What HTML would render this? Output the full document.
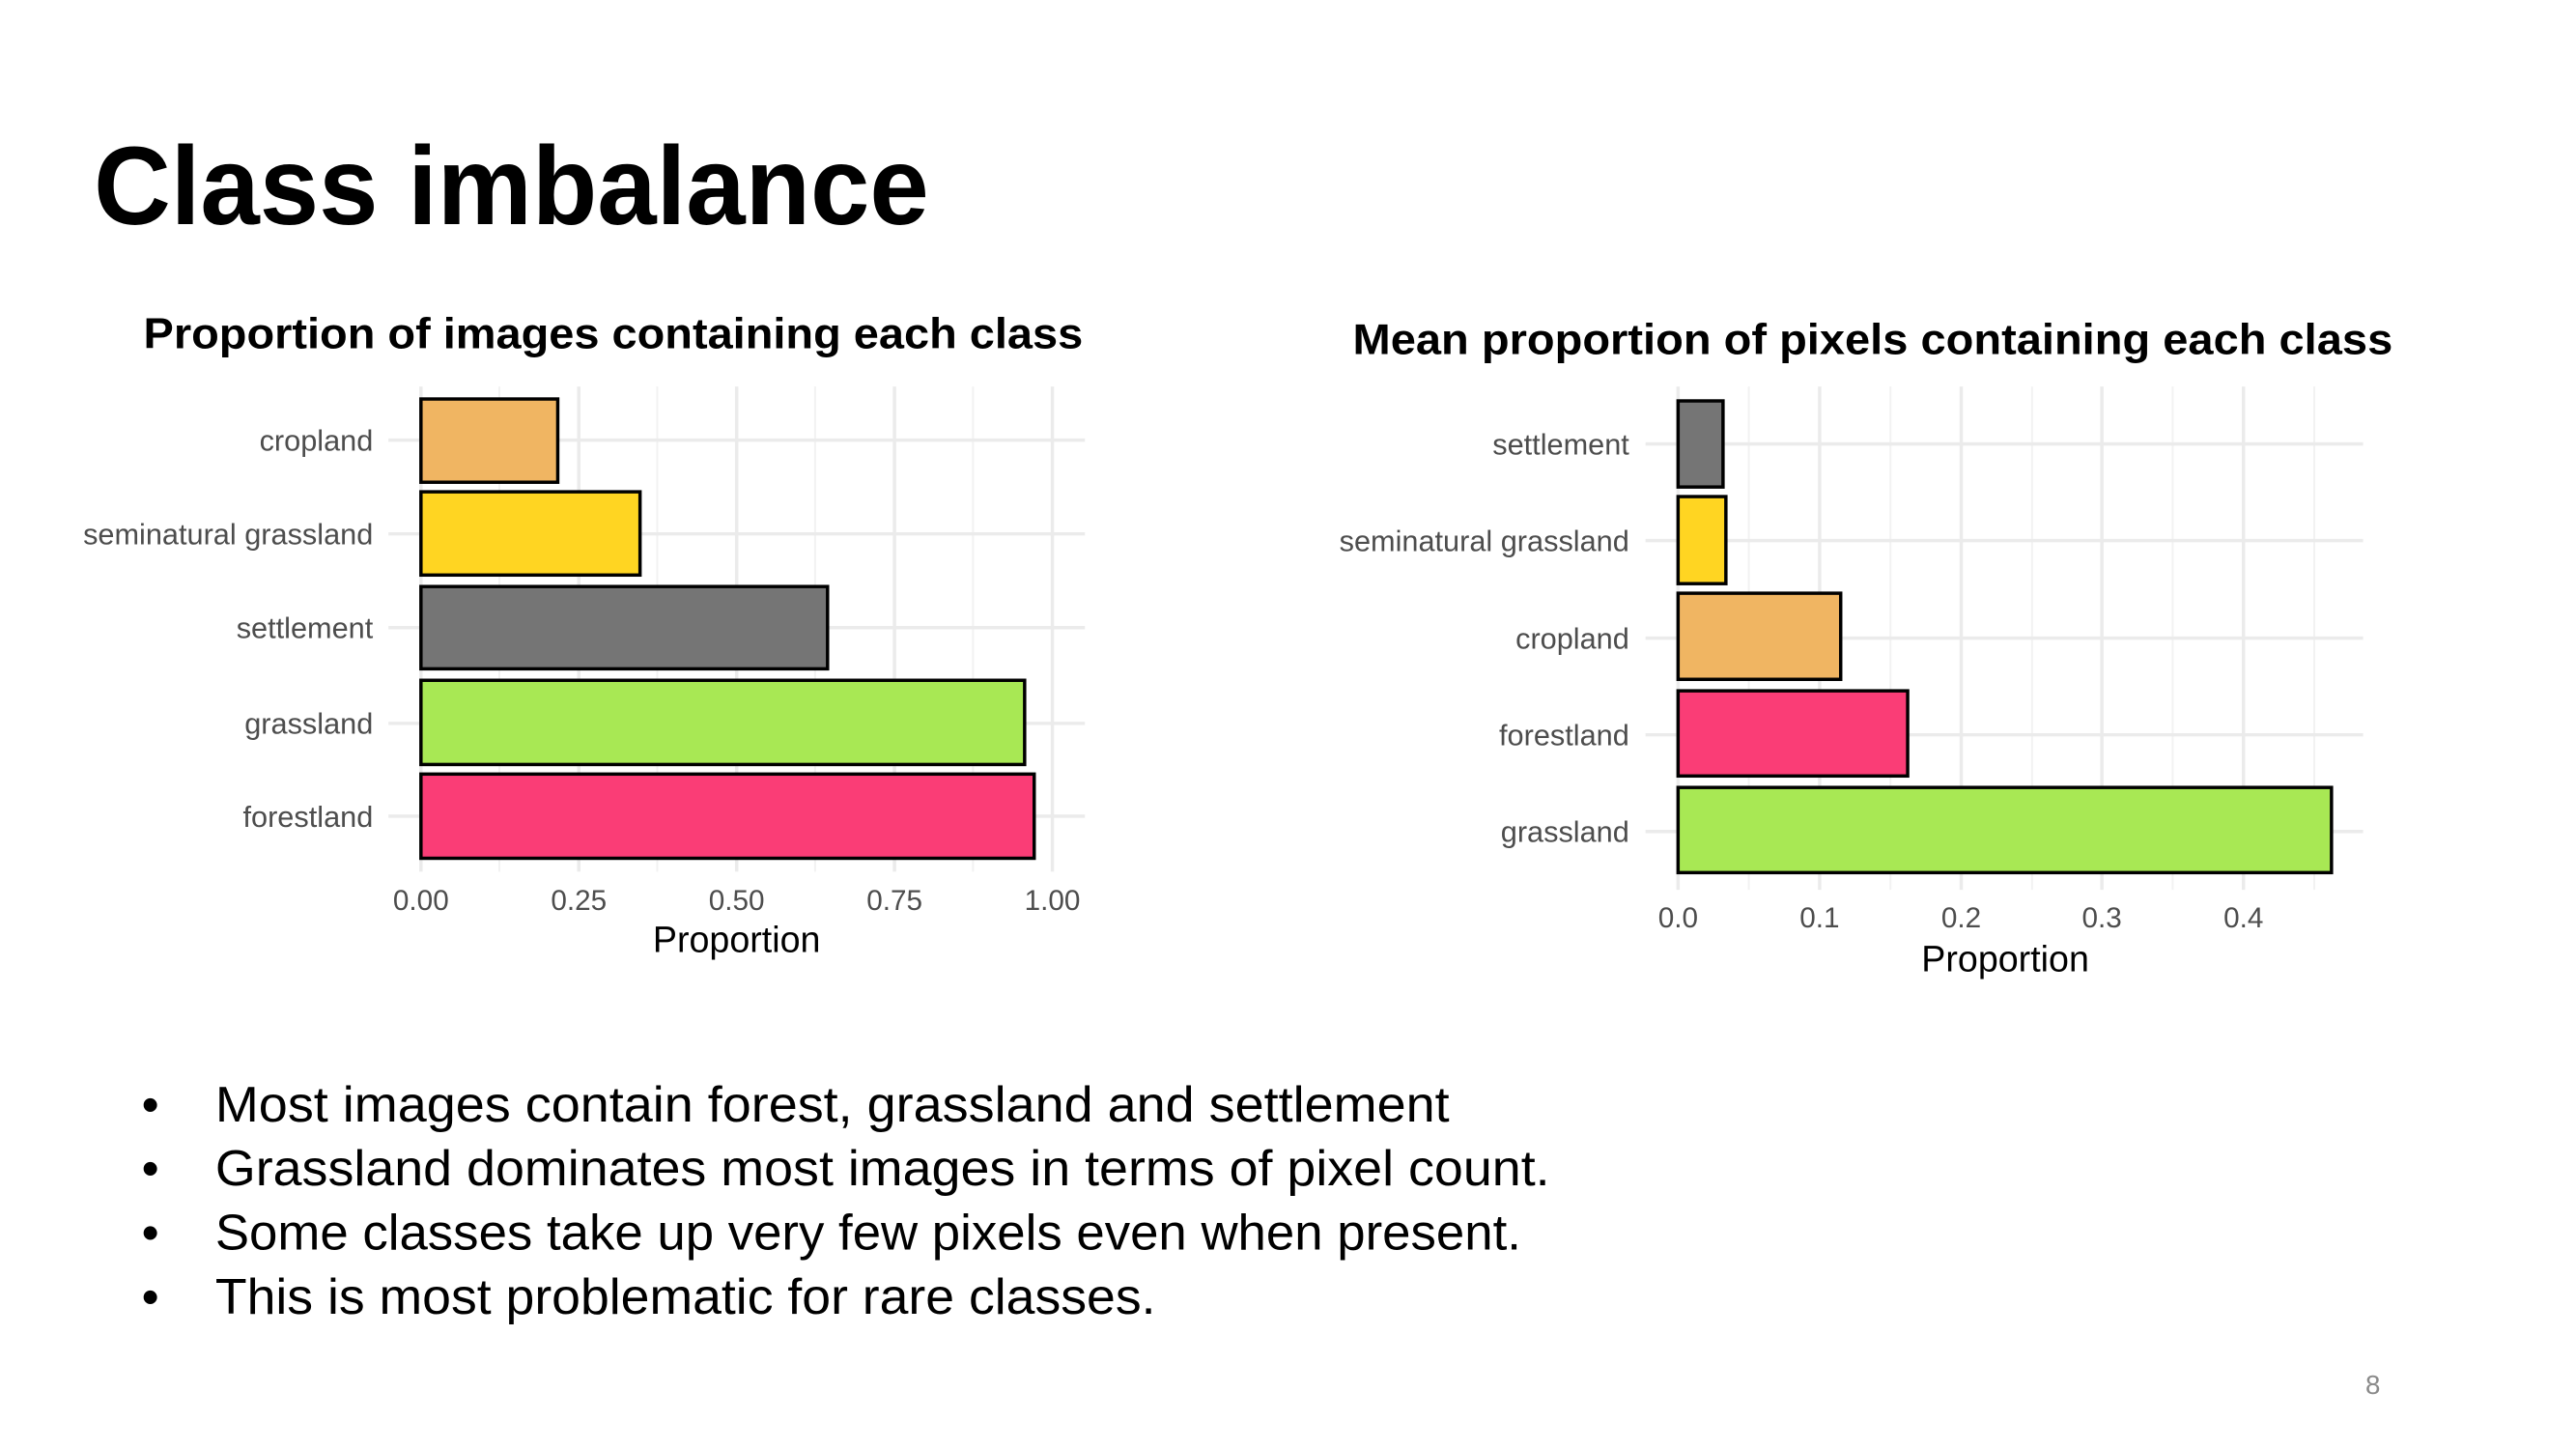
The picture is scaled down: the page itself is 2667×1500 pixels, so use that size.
<!DOCTYPE html>
<html><head><meta charset="utf-8"><style>html,body{margin:0;padding:0;background:#fff}svg{display:block}</style></head>
<body>
<svg width="2667" height="1500" viewBox="0 0 2667 1500" xmlns="http://www.w3.org/2000/svg" font-family="Liberation Sans, sans-serif">
<rect width="2667" height="1500" fill="#fff"/>
<g transform="scale(0.9905)">
<text x="98" y="234" font-size="116" font-weight="bold" textLength="873" lengthAdjust="spacingAndGlyphs">Class imbalance</text>

<!-- Left chart -->
<text x="150" y="364" font-size="45" font-weight="bold" textLength="982" lengthAdjust="spacingAndGlyphs">Proportion of images containing each class</text>
<g stroke="#f2f2f2" stroke-width="2">
<line x1="522" y1="404" x2="522" y2="911"/><line x1="687" y1="404" x2="687" y2="911"/><line x1="852" y1="404" x2="852" y2="911"/><line x1="1017" y1="404" x2="1017" y2="911"/>
</g>
<g stroke="#ebebeb" stroke-width="3.5">
<line x1="440" y1="404" x2="440" y2="911"/><line x1="605" y1="404" x2="605" y2="911"/><line x1="770" y1="404" x2="770" y2="911"/><line x1="935" y1="404" x2="935" y2="911"/><line x1="1100" y1="404" x2="1100" y2="911"/>
<line x1="406" y1="460" x2="1134" y2="460"/><line x1="406" y1="558" x2="1134" y2="558"/><line x1="406" y1="656" x2="1134" y2="656"/><line x1="406" y1="756" x2="1134" y2="756"/><line x1="406" y1="853" x2="1134" y2="853"/>
</g>
<g stroke="#000" stroke-width="3.5">
<rect x="440" y="417" width="143" height="87" fill="#f0b562"/>
<rect x="440" y="514" width="229" height="87" fill="#ffd522"/>
<rect x="440" y="613" width="425" height="86" fill="#757575"/>
<rect x="440" y="711" width="631" height="88" fill="#a8e854"/>
<rect x="440" y="809" width="641" height="88" fill="#fa3d76"/>
</g>
<g font-size="31" fill="#4d4d4d" text-anchor="end">
<text x="390" y="471">cropland</text><text x="390" y="569">seminatural grassland</text><text x="390" y="667">settlement</text><text x="390" y="767">grassland</text><text x="390" y="864">forestland</text>
</g>
<g font-size="30" fill="#4d4d4d" text-anchor="middle">
<text x="440" y="951">0.00</text><text x="605" y="951">0.25</text><text x="770" y="951">0.50</text><text x="935" y="951">0.75</text><text x="1100" y="951">1.00</text>
</g>
<text x="770" y="995" font-size="38" text-anchor="middle">Proportion</text>

<!-- Right chart -->
<text x="1414" y="370" font-size="45" font-weight="bold" textLength="1087" lengthAdjust="spacingAndGlyphs">Mean proportion of pixels containing each class</text>
<g stroke="#f2f2f2" stroke-width="2">
<line x1="1828" y1="404" x2="1828" y2="930"/><line x1="1976" y1="404" x2="1976" y2="930"/><line x1="2124" y1="404" x2="2124" y2="930"/><line x1="2271" y1="404" x2="2271" y2="930"/><line x1="2419" y1="404" x2="2419" y2="930"/>
</g>
<g stroke="#ebebeb" stroke-width="3.5">
<line x1="1754" y1="404" x2="1754" y2="930"/><line x1="1902" y1="404" x2="1902" y2="930"/><line x1="2050" y1="404" x2="2050" y2="930"/><line x1="2197" y1="404" x2="2197" y2="930"/><line x1="2345" y1="404" x2="2345" y2="930"/>
<line x1="1720" y1="464" x2="2470" y2="464"/><line x1="1720" y1="565" x2="2470" y2="565"/><line x1="1720" y1="667" x2="2470" y2="667"/><line x1="1720" y1="768" x2="2470" y2="768"/><line x1="1720" y1="869" x2="2470" y2="869"/>
</g>
<g stroke="#000" stroke-width="3.5">
<rect x="1754" y="419" width="47" height="90" fill="#757575"/>
<rect x="1754" y="519" width="50" height="91" fill="#ffd522"/>
<rect x="1754" y="620" width="170" height="90" fill="#f0b562"/>
<rect x="1754" y="722" width="240" height="89" fill="#fa3d76"/>
<rect x="1754" y="823" width="683" height="89" fill="#a8e854"/>
</g>
<g font-size="31" fill="#4d4d4d" text-anchor="end">
<text x="1703" y="475">settlement</text><text x="1703" y="576">seminatural grassland</text><text x="1703" y="678">cropland</text><text x="1703" y="779">forestland</text><text x="1703" y="880">grassland</text>
</g>
<g font-size="30" fill="#4d4d4d" text-anchor="middle">
<text x="1754" y="969">0.0</text><text x="1902" y="969">0.1</text><text x="2050" y="969">0.2</text><text x="2197" y="969">0.3</text><text x="2345" y="969">0.4</text>
</g>
<text x="2096" y="1015" font-size="38" text-anchor="middle">Proportion</text>

<!-- Bullets -->
<g font-size="52">
<text x="148" y="1172">•</text><text x="225" y="1172" textLength="1290" lengthAdjust="spacingAndGlyphs">Most images contain forest, grassland and settlement</text>
<text x="148" y="1239">•</text><text x="225" y="1239" textLength="1395" lengthAdjust="spacingAndGlyphs">Grassland dominates most images in terms of pixel count.</text>
<text x="148" y="1306">•</text><text x="225" y="1306" textLength="1365" lengthAdjust="spacingAndGlyphs">Some classes take up very few pixels even when present.</text>
<text x="148" y="1373">•</text><text x="225" y="1373" textLength="983" lengthAdjust="spacingAndGlyphs">This is most problematic for rare classes.</text>
</g>
<text x="2488" y="1457" font-size="28" fill="#8a8a8a" text-anchor="end">8</text>
</g>
</svg>
</body></html>
